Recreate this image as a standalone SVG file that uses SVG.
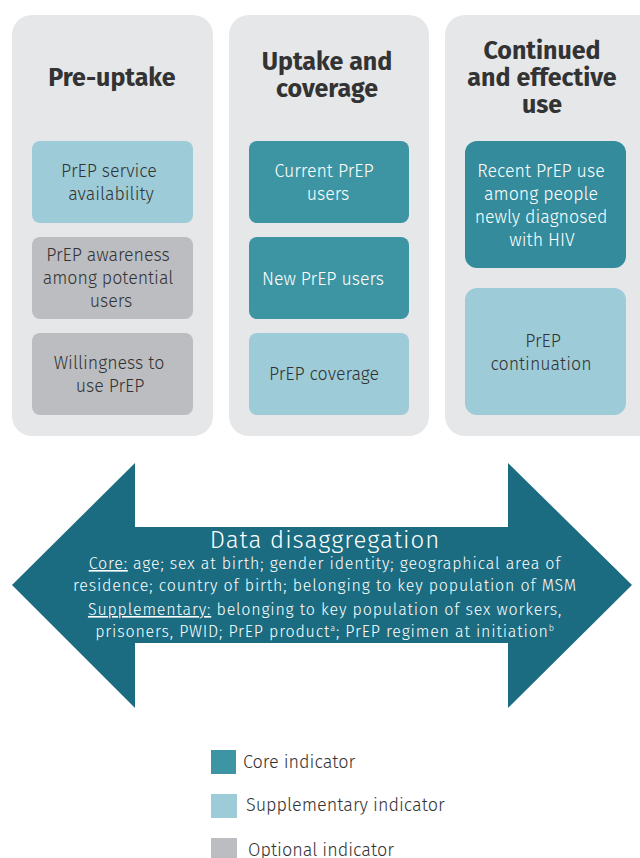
<svg xmlns="http://www.w3.org/2000/svg" width="640" height="858" viewBox="0 0 640 858">
<style>
.panel{fill:#e6e7e9}
.sup{fill:#9dcbd7}
.opt{fill:#bcbdc1}
.core{fill:#3d95a4}
.core2{fill:#338b9b}
text{font-family:"Fira Sans","Roboto","Liberation Sans",sans-serif}
.t{font-size:25px;font-weight:bold;fill:#333;text-anchor:middle}
.d{font-size:17.8px;font-weight:300;fill:#333;text-anchor:middle}
.w{font-size:17.8px;font-weight:300;fill:#fff;text-anchor:middle}
.a1{font-size:24px;font-weight:300;letter-spacing:1px;fill:#fff;text-anchor:middle}
.a2{font-size:16px;font-weight:300;letter-spacing:0.82px;fill:#fff;text-anchor:middle}
.lg{font-size:18px;font-weight:300;fill:#333}
</style>
<rect width="640" height="858" fill="#fff"/>
<g id="panel-preuptake">
<rect class="panel" x="12" y="15" width="201" height="421" rx="20"/>
<text class="t" x="112" y="86">Pre-uptake</text>
</g>
<g id="panel-uptake">
<rect class="panel" x="229" y="15" width="200" height="421" rx="20"/>
<text class="t" x="327" y="70">Uptake and</text>
<text class="t" x="327" y="97">coverage</text>
</g>
<g id="panel-continued">
<rect class="panel" x="445" y="15" width="215" height="421" rx="20"/>
<text class="t" x="542" y="59">Continued</text>
<text class="t" x="542" y="86">and effective</text>
<text class="t" x="542" y="113">use</text>
</g>
<g id="n-availability">
<rect class="sup" x="32" y="141" width="161" height="82" rx="8"/>
<text class="d" x="109" y="177">PrEP service</text>
<text class="d" x="111" y="200">availability</text>
</g>
<g id="n-awareness">
<rect class="opt" x="32" y="237" width="161" height="82" rx="8"/>
<text class="d" x="108" y="261">PrEP awareness</text>
<text class="d" x="108" y="284">among potential</text>
<text class="d" x="111" y="307">users</text>
</g>
<g id="n-willingness">
<rect class="opt" x="32" y="333" width="161" height="82" rx="8"/>
<text class="d" x="109" y="369">Willingness to</text>
<text class="d" x="110" y="392">use PrEP</text>
</g>
<g id="n-current">
<rect class="core" x="249" y="141" width="160" height="82" rx="8"/>
<text class="w" x="324" y="177">Current PrEP</text>
<text class="w" x="328" y="200">users</text>
</g>
<g id="n-new">
<rect class="core" x="249" y="237" width="160" height="82" rx="8"/>
<text class="w" x="323" y="285">New PrEP users</text>
</g>
<g id="n-coverage">
<rect class="sup" x="249" y="333" width="160" height="82" rx="8"/>
<text class="d" x="324" y="380">PrEP coverage</text>
</g>
<g id="n-recent">
<rect class="core2" x="465" y="141" width="161" height="127" rx="12"/>
<text class="w" x="541" y="177">Recent PrEP use</text>
<text class="w" x="541" y="200">among people</text>
<text class="w" x="541" y="223">newly diagnosed</text>
<text class="w" x="542" y="246">with HIV</text>
</g>
<g id="n-continuation">
<rect class="sup" x="465" y="288" width="161" height="127" rx="12"/>
<text class="d" x="543" y="347">PrEP</text>
<text class="d" x="541" y="370">continuation</text>
</g>
<g id="connectors">
<g id="arrow-disaggregation">
<path d="M12,585 L135,463 L135,527 L508,527 L508,463 L632,585 L508,708 L508,643 L135,643 L135,708 Z" fill="#1b6c81"/>
<text class="a1" x="325" y="548">Data disaggregation</text>
<text class="a2" x="325" y="569"><tspan text-decoration="underline">Core:</tspan> age; sex at birth; gender identity; geographical area of</text>
<text class="a2" x="325" y="591">residence; country of birth; belonging to key population of MSM</text>
<text class="a2" x="325" y="615"><tspan text-decoration="underline">Supplementary:</tspan> belonging to key population of sex workers,</text>
<text class="a2" x="325" y="637">prisoners, PWID; PrEP product<tspan font-size="9" dy="-6">a</tspan><tspan dy="6">; PrEP regimen at initiation</tspan><tspan font-size="9" dy="-6">b</tspan></text>
</g>
</g>
<g id="legend">
<rect class="core" x="211" y="750" width="25" height="24"/>
<text class="lg" x="243" y="768">Core indicator</text>
<rect class="sup" x="211" y="794" width="26" height="24"/>
<text class="lg" x="246" y="811">Supplementary indicator</text>
<rect class="opt" x="211" y="838" width="26" height="24"/>
<text class="lg" x="248" y="856">Optional indicator</text>
</g>
</svg>
